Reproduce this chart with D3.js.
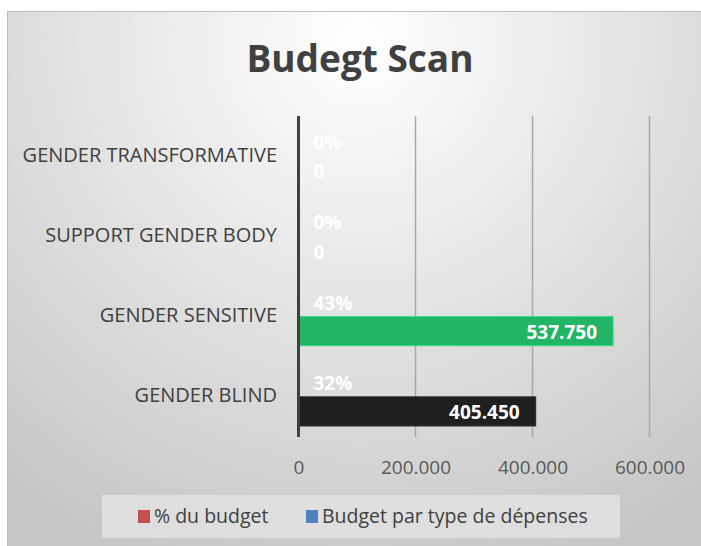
<!DOCTYPE html>
<html>
<head>
<meta charset="utf-8">
<script src="https://cdn.jsdelivr.net/npm/d3@7"></script>
<style>
  body { margin: 0; background: #fff; }
  svg text { font-family: "Open Sans", "Noto Sans", sans-serif; }
</style>
</head>
<body>
<script>
const [W, H] = [701, 546];

// data
const categories = ['GENDER TRANSFORMATIVE', 'SUPPORT GENDER BODY', 'GENDER SENSITIVE', 'GENDER BLIND'];
const series = ['% du budget', 'Budget par type de dépenses'];
const pctValues = [0, 0, 0.43, 0.32];
const budgetValues = [0, 0, 537750, 405450];
const budgetColors = ['none', 'none', '#23b566', '#1f1f1f'];
const legendColors = ['#c0504d', '#4f81bd'];
const xTicks = [0, 200000, 400000, 600000];

const fr = d3.formatLocale({ decimal: ',', thousands: '.', grouping: [3], currency: ['', ''] });
const fmtNum = fr.format(',');
const fmtPct = d3.format('.0%');

function main() {
    const svg = d3.select('body').append('svg')
        .attr('width', W).attr('height', H);

    // background gradient
    const defs = svg.append('defs');
    const grad = defs.append('radialGradient')
        .attr('id', 'bg')
        .attr('gradientUnits', 'userSpaceOnUse')
        .attr('cx', 360).attr('cy', 40).attr('r', 560);
    grad.append('stop').attr('offset', 0).attr('stop-color', '#ffffff');
    grad.append('stop').attr('offset', 0.45).attr('stop-color', '#e6e6e6');
    grad.append('stop').attr('offset', 1).attr('stop-color', '#c6c6c6');

    svg.append('rect')
        .attr('x', 7.5).attr('y', 11.5)
        .attr('width', 700).attr('height', 540)
        .attr('fill', 'url(#bg)')
        .attr('stroke', '#bdbdbd');

    // title
    svg.append('text')
        .attr('x', 360).attr('y', 72)
        .attr('text-anchor', 'middle')
        .style('font-size', '37px')
        .style('font-weight', 'bold')
        .attr('fill', '#404040')
        .text('Budegt Scan');

    // scales
    const xScale = d3.scaleLinear().domain([0, 600000]).range([298.5, 649.5]);
    const yScale = d3.scaleBand().domain(categories).range([116, 437]);
    const ySub = d3.scaleBand().domain(series).range([0, yScale.bandwidth()])
        .paddingInner(0).paddingOuter(0.38);

    // gridlines
    svg.append('g')
        .selectAll('line')
        .data(xTicks.slice(1)).enter()
        .append('line')
        .attr('x1', d => xScale(d)).attr('x2', d => xScale(d))
        .attr('y1', 116).attr('y2', 437)
        .attr('stroke', '#a8a8a8')
        .attr('stroke-width', 1.5);

    // x axis labels
    const xAxis = d3.axisBottom(xScale).tickValues(xTicks).tickFormat(fmtNum).tickSize(0).tickPadding(0);
    const gx = svg.append('g')
        .attr('transform', 'translate(0,467)')
        .call(xAxis);
    gx.select('.domain').remove();
    gx.selectAll('text')
        .attr('dy', '0.35em')
        .style('font-size', '19px')
        .style('font-family', '"Open Sans", sans-serif')
        .attr('fill', '#595959');

    // category labels
    const yAxis = d3.axisLeft(yScale).tickSize(0).tickPadding(21);
    const gy = svg.append('g')
        .attr('transform', 'translate(298,-1)')
        .call(yAxis);
    gy.select('.domain').remove();
    gy.selectAll('text')
        .style('font-size', '20px')
        .style('font-family', '"Open Sans", sans-serif')
        .attr('fill', '#404040');

    const rows = categories.map((c, i) => ({ cat: c, pct: pctValues[i], budget: budgetValues[i], color: budgetColors[i] }));

    // bars: % du budget (tiny on this scale)
    svg.append('g').selectAll('rect')
        .data(rows).enter()
        .append('rect')
        .attr('x', xScale(0))
        .attr('y', d => yScale(d.cat) + ySub(series[0]))
        .attr('width', d => xScale(d.pct) - xScale(0))
        .attr('height', ySub.bandwidth())
        .attr('fill', legendColors[0]);

    // bars: budget
    svg.append('g').selectAll('rect')
        .data(rows.filter(d => d.budget > 0)).enter()
        .append('rect')
        .attr('x', xScale(0))
        .attr('y', d => yScale(d.cat) + ySub(series[1]))
        .attr('width', d => xScale(d.budget) - xScale(0))
        .attr('height', ySub.bandwidth())
        .attr('fill', d => d.color)
        .attr('stroke', d => d3.color(d.color).brighter(0.6))
        .attr('stroke-width', 1);

    // vertical axis line
    svg.append('line')
        .attr('x1', xScale(0)).attr('x2', xScale(0))
        .attr('y1', 116).attr('y2', 437)
        .attr('stroke', '#404040')
        .attr('stroke-width', 3);

    // data labels
    const labels = svg.append('g')
        .style('font-size', '19px')
        .style('font-weight', 'bold')
        .attr('fill', '#ffffff');

    labels.selectAll('.pct')
        .data(rows).enter()
        .append('text')
        .attr('class', 'pct')
        .attr('x', xScale(0) + 15)
        .attr('y', d => yScale(d.cat) + ySub(series[0]) + ySub.bandwidth() / 2 + 1)
        .attr('dy', '0.35em')
        .text(d => fmtPct(d.pct));

    labels.selectAll('.val')
        .data(rows).enter()
        .append('text')
        .attr('class', 'val')
        .attr('x', d => d.budget > 0 ? xScale(d.budget) - 16 : xScale(0) + 15)
        .attr('y', d => yScale(d.cat) + ySub(series[1]) + ySub.bandwidth() / 2 + 1)
        .attr('dy', '0.35em')
        .attr('text-anchor', d => d.budget > 0 ? 'end' : 'start')
        .text(d => fmtNum(d.budget));

    // legend
    const legend = svg.append('g');
    legend.append('rect')
        .attr('x', 102).attr('y', 495)
        .attr('width', 518).attr('height', 43)
        .attr('fill', '#e2e2e2')
        .attr('fill-opacity', 0.85);

    const legendX = [138, 306];
    const item = legend.selectAll('.legend-label')
        .data(series).enter()
        .append('g')
        .attr('class', 'legend-label')
        .attr('transform', (d, i) => 'translate(' + legendX[i] + ',516.5)');

    item.append('rect')
        .attr('x', 0).attr('y', -6.5)
        .attr('width', 12).attr('height', 13)
        .attr('fill', (d, i) => legendColors[i]);

    item.append('text')
        .attr('x', 16)
        .attr('dy', '0.35em')
        .style('font-size', '19.5px')
        .attr('fill', '#404040')
        .text(d => d);
}

document.addEventListener('DOMContentLoaded', main);
</script>
</body>
</html>
